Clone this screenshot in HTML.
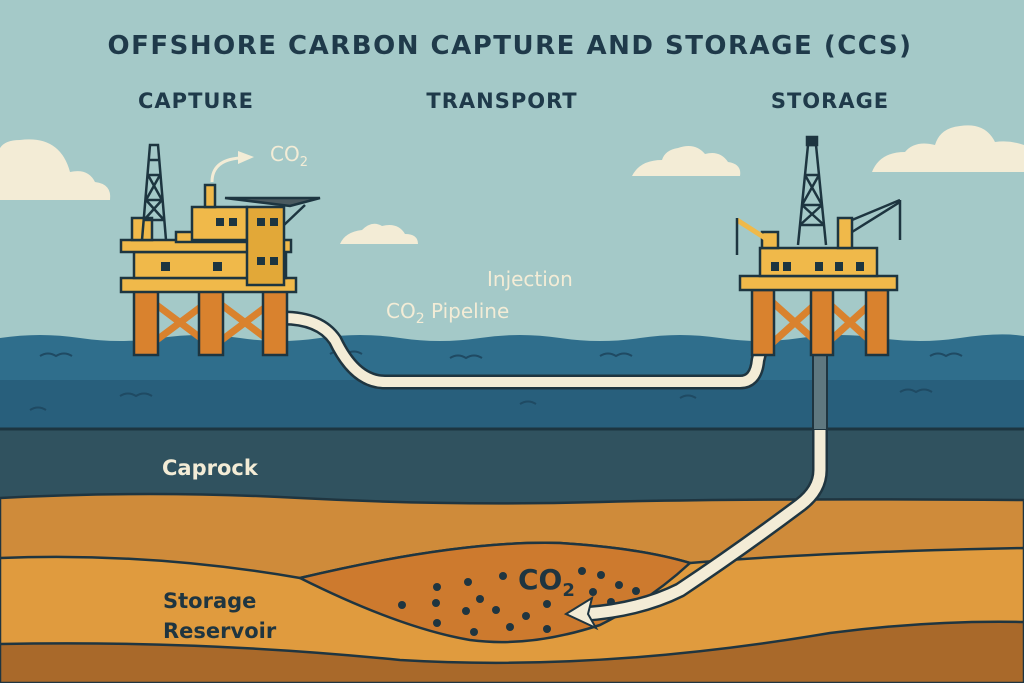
<!DOCTYPE html>
<html><head><meta charset="utf-8"><style>
html,body{margin:0;padding:0;width:1024px;height:683px;overflow:hidden;background:#a4c9c8}
svg{display:block}
text{font-family:"DejaVu Sans","Liberation Sans",sans-serif;font-weight:bold}
</style></head><body>
<svg width="1024" height="683" viewBox="0 0 1024 683" xmlns="http://www.w3.org/2000/svg">
<rect width="1024" height="683" fill="#a4c9c8"/>
<g fill="#f3ecd6">
<path d="M0 200 L110 200 Q112 184 95 182 Q88 168 70 172 Q60 135 20 140 Q5 140 0 148 Z"/>
<path d="M632 176 L740 176 Q742 164 728 162 Q720 150 705 154 Q695 142 678 148 Q665 150 662 160 Q640 160 632 176Z"/>
<path d="M340 244 L418 244 Q418 234 405 234 Q398 222 382 226 Q372 220 362 230 Q345 232 340 244Z"/>
<path d="M872 172 L1024 172 L1024 145 Q1010 140 995 142 Q985 122 960 126 Q940 128 935 145 Q915 140 905 152 Q880 152 872 172Z"/>
</g>
<text x="510" y="54" text-anchor="middle" font-size="26" fill="#1f3a4a" letter-spacing="1.5">OFFSHORE CARBON CAPTURE AND STORAGE (CCS)</text>
<text x="196" y="108" text-anchor="middle" font-size="21" fill="#1f3a4a" letter-spacing="1">CAPTURE</text>
<text x="502" y="108" text-anchor="middle" font-size="21" fill="#1f3a4a" letter-spacing="1">TRANSPORT</text>
<text x="830" y="108" text-anchor="middle" font-size="21" fill="#1f3a4a" letter-spacing="1">STORAGE</text>
<path d="M0 338 Q40 332 80 338 T160 338 T240 338 T320 338 T400 338 T480 338 T560 338 T640 338 T720 338 T800 338 T880 338 T960 338 T1024 336 L1024 430 L0 430Z" fill="#2f6e8c"/>
<rect x="0" y="380" width="1024" height="50" fill="#285f7c"/>
<g stroke="#1f4a63" stroke-width="2" fill="none">
<path d="M40 356 q8 -5 16 0 q8 -5 16 0 M330 354 q8 -5 16 0 q8 -5 16 0 M450 358 q8 -5 16 0 q8 -5 16 0 M600 356 q8 -5 16 0 q8 -5 16 0 M930 356 q8 -5 16 0 q8 -5 16 0 M120 396 q8 -5 16 0 q8 -5 16 0 M520 404 q8 -5 16 0 M680 398 q8 -5 16 0 M900 392 q8 -5 16 0 q8 -5 16 0 M30 410 q8 -5 16 0"/>
</g>
<rect x="0" y="428" width="1024" height="80" fill="#30525f"/>
<line x1="0" y1="429" x2="1024" y2="429" stroke="#1d3540" stroke-width="3"/>
<path d="M0 498 Q150 490 300 498 T600 502 T1024 500 L1024 683 L0 683Z" fill="#cf8b3a" stroke="#1f3540" stroke-width="2.5"/>
<path d="M0 558 Q150 552 300 578 Q460 540 560 543 Q640 548 690 563 Q820 552 1024 548 L1024 683 L0 683Z" fill="#e09b3e" stroke="#1f3540" stroke-width="2.5"/>
<path d="M300 578 Q460 540 560 543 Q640 548 690 563 Q650 600 600 625 Q530 648 470 640 Q400 628 300 578Z" fill="#cd7a2e" stroke="#1f3540" stroke-width="2.5"/>
<path d="M0 644 Q200 640 400 660 Q600 672 830 633 Q930 620 1024 622 L1024 683 L0 683Z" fill="#a9692a" stroke="#1f3540" stroke-width="2.5"/>
<g fill="#1f3540">
<circle cx="402" cy="605" r="4"/><circle cx="437" cy="587" r="4"/><circle cx="468" cy="582" r="4"/><circle cx="503" cy="576" r="4"/><circle cx="436" cy="603" r="4"/><circle cx="466" cy="611" r="4"/><circle cx="437" cy="623" r="4"/><circle cx="480" cy="599" r="4"/><circle cx="496" cy="610" r="4"/><circle cx="510" cy="627" r="4"/><circle cx="526" cy="616" r="4"/><circle cx="547" cy="629" r="4"/><circle cx="547" cy="604" r="4"/><circle cx="582" cy="571" r="4"/><circle cx="601" cy="575" r="4"/><circle cx="619" cy="585" r="4"/><circle cx="593" cy="592" r="4"/><circle cx="611" cy="602" r="4"/><circle cx="636" cy="591" r="4"/><circle cx="474" cy="632" r="4"/>
</g>
<text x="518" y="589" font-size="28" fill="#1f3540">CO<tspan font-size="18" dy="7">2</tspan></text>
<rect x="813" y="350" width="14" height="80" fill="#5f7880" stroke="#1f3540" stroke-width="2"/>
<path d="M820 430 L820 470 Q820 490 800 505 Q740 550 680 590 Q640 610 585 614" fill="none" stroke="#1f3540" stroke-width="16"/>
<path d="M820 430 L820 470 Q820 490 800 505 Q740 550 680 590 Q640 610 585 614" fill="none" stroke="#f3ecd6" stroke-width="11"/>
<path d="M566 614 L592 598 L588 614 L596 628Z" fill="#f3ecd6" stroke="#1f3540" stroke-width="2"/>
<path d="M283 318 Q320 318 335 340 Q355 382 385 382 L740 382 Q756 382 758 360 L760 352" fill="none" stroke="#1f3540" stroke-width="15"/>
<path d="M283 318 Q320 318 335 340 Q355 382 385 382 L740 382 Q756 382 758 360 L760 352" fill="none" stroke="#f3ecd6" stroke-width="10"/>
<text x="487" y="286" font-size="20" fill="#f3ecd6" style="font-weight:normal">Injection</text>
<text x="386" y="318" font-size="20" fill="#f3ecd6" style="font-weight:normal">CO<tspan font-size="14" dy="5">2</tspan><tspan dy="-5"> Pipeline</tspan></text>
<text x="162" y="475" font-size="21" fill="#f3ecd6">Caprock</text>
<text x="163" y="608" font-size="21" fill="#1f3540">Storage</text>
<text x="163" y="638" font-size="21" fill="#1f3540">Reservoir</text>
<g stroke="#1d3540" stroke-width="2.5">
<path d="M150 300 L210 345 M210 300 L150 345 M215 300 L275 345 M275 300 L215 345" stroke="#d9822e" stroke-width="7"/>
<rect x="134" y="290" width="24" height="65" fill="#d9822e"/>
<rect x="199" y="290" width="24" height="65" fill="#d9822e"/>
<rect x="263" y="290" width="24" height="65" fill="#d9822e"/>
<rect x="121" y="278" width="175" height="14" fill="#f0b94a"/>
<rect x="134" y="252" width="152" height="26" fill="#f0b94a"/>
<rect x="121" y="240" width="170" height="12" fill="#f0b94a"/>
<rect x="132" y="218" width="20" height="22" fill="#f0b94a"/>
<rect x="176" y="232" width="72" height="10" fill="#f0b94a"/>
<rect x="192" y="207" width="55" height="33" fill="#f0b94a"/>
<rect x="247" y="207" width="37" height="78" fill="#e2a838"/>
<rect x="205" y="185" width="10" height="22" fill="#f0b94a"/>
<path d="M225 198 L320 198 L290 206 Z" fill="#4a5a60"/>
<path d="M284 225 L305 205" fill="none"/>
</g>
<g fill="#1d3540">
<rect x="216" y="218" width="8" height="8"/><rect x="229" y="218" width="8" height="8"/>
<rect x="257" y="218" width="8" height="8"/><rect x="270" y="218" width="8" height="8"/>
<rect x="257" y="257" width="8" height="8"/><rect x="270" y="257" width="8" height="8"/>
<rect x="161" y="262" width="9" height="9"/><rect x="213" y="262" width="9" height="9"/>
</g>
<g stroke="#1d3540" stroke-width="2.5" fill="none">
<path d="M142 240 L150 145 L158 145 L166 240 M146 200 L162 200 M148 175 L160 175 M144 220 L164 220 M146 200 L164 220 M162 200 L144 220 M148 175 L162 200 M160 175 L146 200 M150 160 L158 160"/>
</g>
<path d="M212 182 Q212 160 240 158" fill="none" stroke="#f3ecd6" stroke-width="3"/>
<path d="M238 151 L254 157 L238 164Z" fill="#f3ecd6"/>
<text x="270" y="161" font-size="20" fill="#f3ecd6" style="font-weight:normal">CO<tspan font-size="13" dy="5">2</tspan></text>
<g stroke="#1d3540" stroke-width="2.5">
<path d="M770 300 L820 345 M820 300 L770 345 M825 300 L875 345 M875 300 L825 345" stroke="#d9822e" stroke-width="7"/>
<rect x="752" y="290" width="22" height="65" fill="#d9822e"/>
<rect x="811" y="290" width="22" height="65" fill="#d9822e"/>
<rect x="866" y="290" width="22" height="65" fill="#d9822e"/>
<rect x="740" y="276" width="157" height="14" fill="#f0b94a"/>
<rect x="760" y="248" width="117" height="28" fill="#f0b94a"/>
<rect x="762" y="232" width="16" height="16" fill="#f0b94a"/>
<rect x="838" y="218" width="14" height="30" fill="#f0b94a"/>
<path d="M737 220 L765 238" stroke="#f0b94a" stroke-width="5"/>
</g>
<g fill="#1d3540">
<rect x="771" y="262" width="8" height="9"/><rect x="783" y="262" width="8" height="9"/>
<rect x="815" y="262" width="8" height="9"/><rect x="835" y="262" width="8" height="9"/>
<rect x="856" y="262" width="8" height="9"/>
</g>
<g stroke="#1d3540" stroke-width="2.5" fill="none">
<path d="M798 245 L808 145 L816 145 L826 245 M802 205 L822 205 M805 175 L819 175 M800 225 L824 225 M802 205 L824 225 M822 205 L800 225 M805 175 L822 205 M819 175 L802 205"/>
<rect x="807" y="137" width="10" height="8" fill="#1d3540"/>
<path d="M737 218 L737 255 M852 220 L900 200 M852 232 L900 202 M900 200 L900 240"/>
</g>
</svg>
</body></html>
